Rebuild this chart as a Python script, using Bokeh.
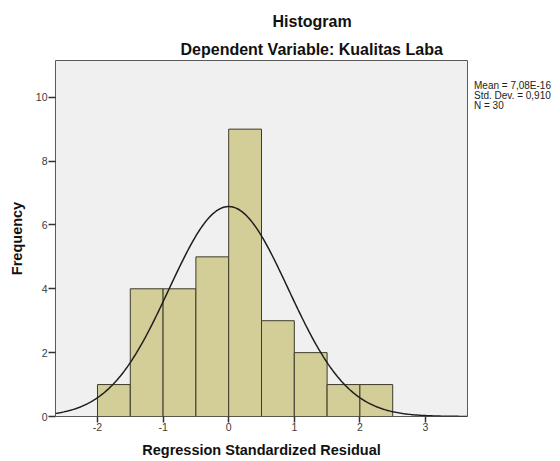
import numpy as np
from bokeh.plotting import figure
from bokeh.models import Range1d, FixedTicker, Title, Div
from bokeh.layouts import row
from bokeh.embed import file_html
from bokeh.resources import INLINE

# Data
bin_left = [-2.0, -1.5, -1.0, -0.5, 0.0, 0.5, 1.0, 1.5, 2.0]
bin_right = [-1.5, -1.0, -0.5, 0.0, 0.5, 1.0, 1.5, 2.0, 2.5]
counts = [1, 4, 4, 5, 9, 3, 2, 1, 1]
mean = 7.08e-16
std_dev = 0.910
n_obs = 30
bin_width = 0.5
x_ticks = [-2, -1, 0, 1, 2, 3]
y_ticks = [0, 2, 4, 6, 8, 10]
stats = ["Mean = 7,08E-16", "Std. Dev. = 0,910", "N = 30"]

FONT = "Liberation Sans"

p = figure(width=469, height=461, output_backend="svg", toolbar_location=None,
           x_range=Range1d(-2.64, 3.64), y_range=Range1d(0, 11.15),
           min_border_left=55, min_border_right=2, min_border_top=60, min_border_bottom=45)
p.title = None
p.background_fill_color = "#F0F0F0"
p.border_fill_color = "white"
p.outline_line_color = "#5a5a5a"
p.outline_line_width = 1
p.grid.visible = False

p.quad(left=bin_left, right=bin_right, bottom=0, top=counts,
       fill_color="#D3CE98", line_color="#3c3a2c", line_width=1)

# fitted normal curve from stated mean, sd and N
xs = np.linspace(-2.64, 3.64, 300)
ys = n_obs * bin_width / (std_dev * np.sqrt(2 * np.pi)) * np.exp(-0.5 * ((xs - mean) / std_dev) ** 2)
p.line(xs, ys, line_color="#1e1e1e", line_width=1.5)

for ax in (p.xaxis[0], p.yaxis[0]):
    ax.axis_line_color = None
    ax.major_tick_in = 0
    ax.minor_tick_line_color = None
    ax.major_label_text_font = FONT
    ax.major_label_text_font_size = "10.5px"
    ax.major_label_text_color = "#3a3a3a"
    ax.major_tick_line_color = "#333333"
    ax.major_tick_line_width = 1.5
    ax.axis_label_text_font = FONT
    ax.axis_label_text_font_style = "bold"
    ax.axis_label_text_font_size = "14.5px"
    ax.axis_label_text_color = "#111111"

p.xaxis.ticker = FixedTicker(ticks=x_ticks)
p.yaxis.ticker = FixedTicker(ticks=y_ticks)
p.xaxis.major_label_overrides = {t: str(t) for t in x_ticks}
p.yaxis.major_label_overrides = {t: str(t) for t in y_ticks}
p.xaxis.major_tick_out = 6
p.yaxis.major_tick_out = 7
p.xaxis.major_label_standoff = 0
p.yaxis.major_label_standoff = 1
p.xaxis.axis_label = "Regression Standardized Residual"
p.yaxis.axis_label = "Frequency"
p.xaxis.axis_label_standoff = 8
p.yaxis.axis_label_standoff = 8

sub = Title(text="Dependent Variable: Kualitas Laba", align="left", offset=125,
            text_font=FONT, text_font_style="bold", text_font_size="16px",
            text_color="#111111", standoff=6)
main = Title(text="Histogram", align="left", offset=217,
             text_font=FONT, text_font_style="bold", text_font_size="16px",
             text_color="#111111", standoff=11)
p.add_layout(sub, "above")
p.add_layout(main, "above")

stats_div = Div(text="<br>".join(stats), width=88,
                styles={"font-family": FONT, "font-size": "10px", "line-height": "10px",
                        "color": "#222222", "margin-top": "81px", "white-space": "nowrap"})

layout = row(p, stats_div)
open("out.html", "w").write(file_html(layout, INLINE))
